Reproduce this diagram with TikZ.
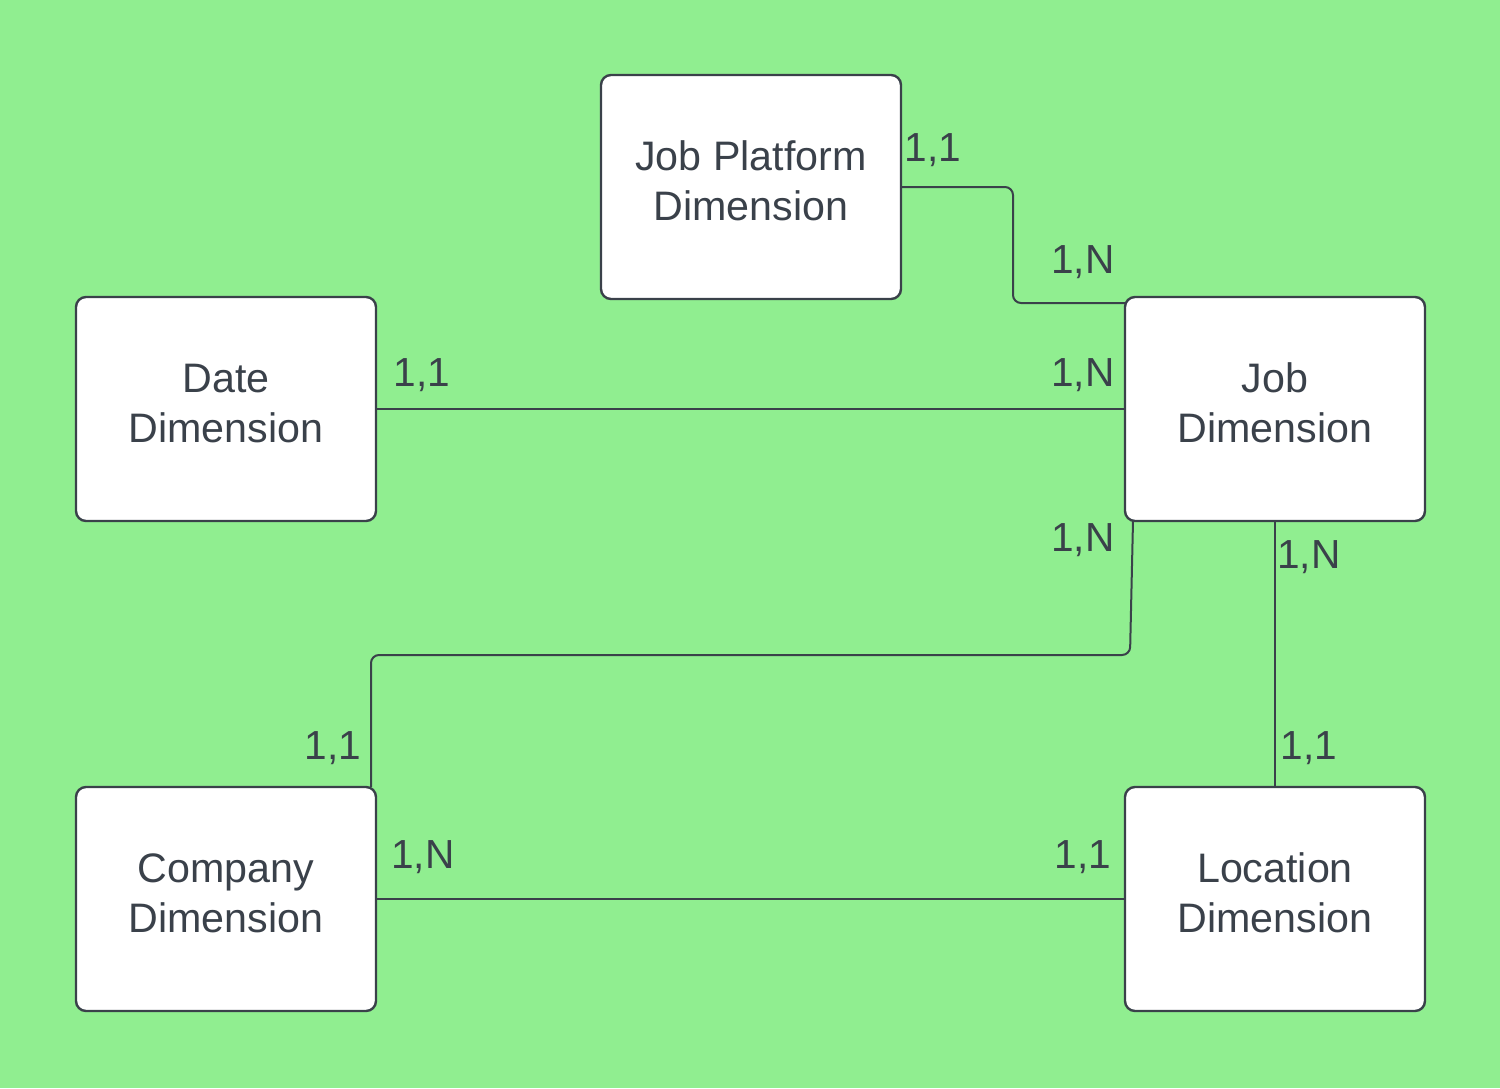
\documentclass[tikz,border=0pt]{standalone}
\usepackage{fontspec}
\setmainfont{Liberation Sans}
\usetikzlibrary{positioning,calc}
\definecolor{bg}{HTML}{90EE90}
\definecolor{ink}{HTML}{3A414A}

\begin{document}
\begin{tikzpicture}[x=0.5pt, y=-0.5pt,
  r/.style={draw=ink, line width=1.2pt, fill=white, rounded corners=5pt, minimum width=150pt,
    minimum height=112pt, align=center, font=\fontsize{20.6}{25}\selectfont, text=ink,
    inner sep=0pt, outer sep=0pt, text depth=6pt},
  e/.style={draw=ink, line width=1pt, rounded corners=4pt},
  c/.style={font=\fontsize{20.3}{24}\selectfont, text=ink, anchor=base, inner sep=0pt}]
\fill[bg] (0,0) rectangle (1500,1088);
\useasboundingbox (0,0) rectangle (1500,1088);
% the five dimensions
\node[r] (jp) at (751,187) {Job Platform\\Dimension};
\node[r] (dt) at (226,409) {Date\\Dimension};
\node[r] (jb) at (1275,409) {Job\\Dimension};
\node[r] (co) at (226,899) {Company\\Dimension};
\node[r] (lo) at (1275,899) {Location\\Dimension};
% links
\coordinate (jpbend) at (1013,0);
\coordinate (jpin) at ($(jb.north west)+(0,6)$);
\draw[e] (jp.east) -| (jpbend |- jpin) -- (jpin);
\draw[e] (dt.east) -- (jb.west);
\coordinate (jbout) at ($(jb.south west)+(8,0)$);
\coordinate (jbdown) at (1130,655);
\coordinate (coin) at ($(co.north east)+(-5,0)$);
\draw[e] (jbout) -- (jbdown) -- (coin |- jbdown) -- (coin);
\draw[e] (jb.south) -- (lo.north);
\draw[e, line width=0.75pt] (co.east) -- (lo.west);
% cardinalities
\node[c] (jpone) at (933,161) {1,1};
\node[c] (jpmany) at (1083,273) {1,N};
\node[c] (dtone) at (422,386) {1,1};
\node[c] (dtmany) at (1083,386) {1,N};
\node[c] (comany) at (1083,551) {1,N};
\node[c] (coone) at (333,759) {1,1};
\node[c] (lomany) at (1309,568) {1,N};
\node[c] (loone) at (1309,759) {1,1};
\node[c] (clmany) at (423,868) {1,N};
\node[c] (clone) at (1083,868) {1,1};
\end{tikzpicture}
\end{document}
